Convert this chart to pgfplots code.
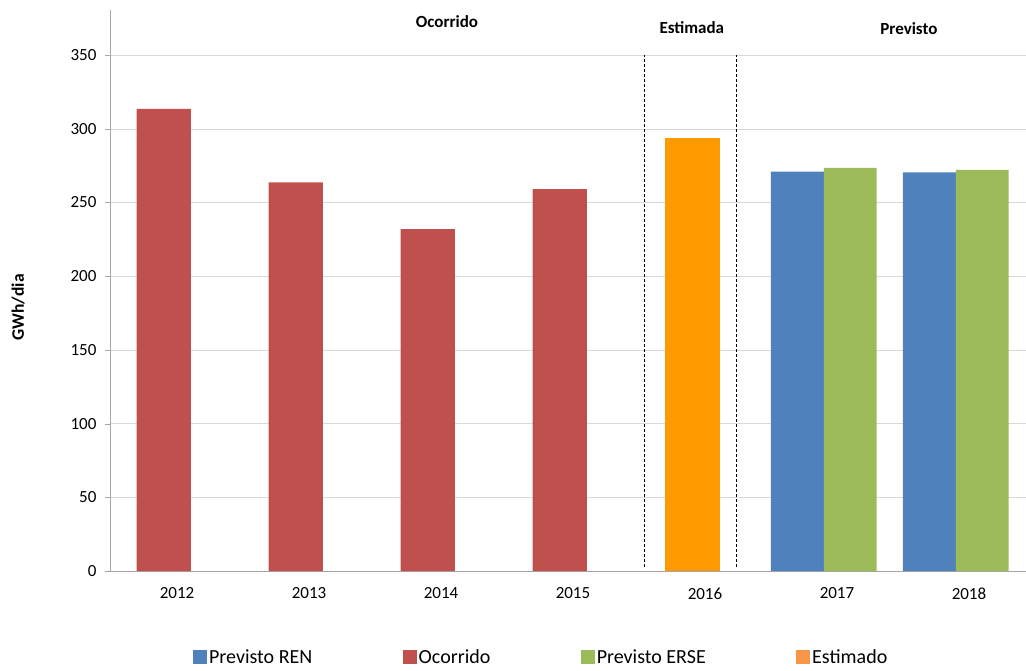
\documentclass[border=0pt]{standalone}
\usepackage{fontspec}
\setmainfont{Carlito}
\usepackage{pgfplots}
\pgfplotsset{compat=1.18}
\definecolor{ren}{HTML}{4F81BD}
\definecolor{oco}{HTML}{C0504D}
\definecolor{erse}{HTML}{9BBB59}
\definecolor{est}{HTML}{FF9900}
\definecolor{estleg}{HTML}{F79646}
\definecolor{gridc}{HTML}{D9D9D9}
\definecolor{axc}{HTML}{A6A6A6}
\pgfplotsset{sq/.style={legend image code/.code={\fill[#1] (0pt,-6.5pt) rectangle (13pt,6.5pt);}}}
\begin{document}
\begin{tikzpicture}
\useasboundingbox (0,0) rectangle (1026pt,670pt);
\begin{axis}[
  at={(110pt,99pt)}, anchor=south west,
  width=916pt, height=561pt, scale only axis,
  xmin=-0.5076, xmax=6.432,
  ymin=0, ymax=380.6,
  clip=false,
  axis x line=bottom, axis y line=left,
  axis line style={axc, -},
  xtick={0,1,2,3,4,5,6},
  xticklabels={2012,2013,2014,2015,2016,2017,2018},
  xtick style={draw=none},
  ytick={0,50,100,150,200,250,300,350},
  ytick style={axc},
  tick align=outside, major tick length=5pt,
  ymajorgrids, grid style={gridc},
  /pgf/number format/assume math mode=true,
  ticklabel style={font=\fontsize{17}{20}\selectfont},
  yticklabel style={xshift=-5pt},
  xticklabel style={yshift=-8pt},
  ylabel={GWh/dia},
  ylabel style={at={(axis description cs:-0.1004,0.47)}, anchor=center, font=\bfseries\fontsize{17.5}{20}\selectfont},
  legend columns=4,
  legend cell align=left,
  legend style={draw=none, fill=none, at={(axis description cs:0.0906,-0.1533)}, anchor=west, inner sep=0pt,
    font=\fontsize{20}{22}\selectfont, nodes={inner sep=2.5pt},
    /tikz/every even column/.append style={column sep=88pt}},
]
\addplot[ybar, bar width=0.41, bar shift=0pt, fill=oco, draw=none, forget plot]
  coordinates {(-0.1,313.6) (0.9,263.6) (1.9,231.9) (2.9,259.0)};
\addplot[ybar, bar width=0.41, bar shift=0pt, fill=est, draw=none, forget plot]
  coordinates {(3.905,293.6)};
\addplot[ybar, bar width=0.4, bar shift=0pt, fill=ren, draw=none, forget plot]
  coordinates {(4.7,271.0) (5.7,270.4)};
\addplot[ybar, bar width=0.4, bar shift=0pt, fill=erse, draw=none, forget plot]
  coordinates {(5.1,273.5) (6.1,272.2)};
\addplot[black, thin, dash pattern=on 3pt off 2pt, forget plot] coordinates {(3.540,3) (3.540,350)};
\addplot[black, thin, dash pattern=on 3pt off 2pt, forget plot] coordinates {(4.233,3) (4.233,350)};
\addlegendimage{sq=ren}\addlegendentry{Previsto REN}
\addlegendimage{sq=oco}\addlegendentry{Ocorrido}
\addlegendimage{sq=erse}\addlegendentry{Previsto ERSE}
\addlegendimage{sq=estleg}\addlegendentry{Estimado}
\node[font=\bfseries\fontsize{17}{20}\selectfont] at (axis cs:2.045,372.4) {Ocorrido};
\node[font=\bfseries\fontsize{17}{20}\selectfont] at (axis cs:3.90,368.4) {Estimada};
\node[font=\bfseries\fontsize{17}{20}\selectfont] at (axis cs:5.545,367.7) {Previsto};
\end{axis}
\end{tikzpicture}
\end{document}
